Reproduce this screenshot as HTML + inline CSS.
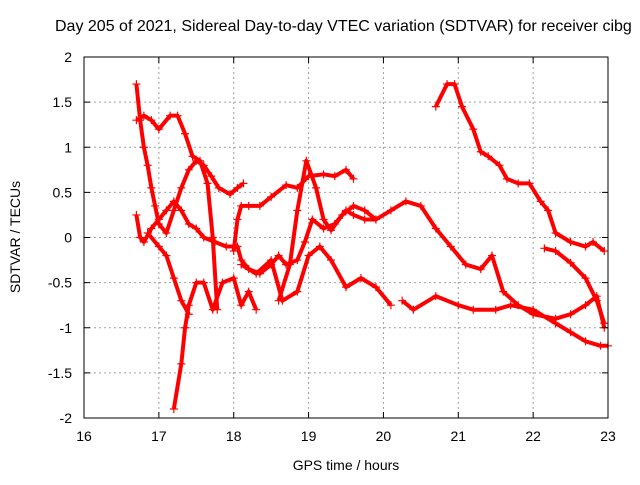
<!DOCTYPE html>
<html><head><meta charset="utf-8"><style>
body{margin:0;background:#fff}
svg text{font-family:"Liberation Sans",sans-serif;font-size:14px;fill:#000}
</style></head><body>
<svg id="chart" width="640" height="480" viewBox="0 0 640 480" xmlns="http://www.w3.org/2000/svg">
<rect x="0" y="0" width="640" height="480" fill="#fff"/>
<g id="grid"></g>
<g id="series"></g>
<rect x="84" y="57" width="524" height="361" fill="none" stroke="#000" stroke-width="1"/>
<g id="axes"></g>
<text x="55" y="31" text-anchor="start" style="font-size:16px">Day 205 of 2021, Sidereal Day-to-day VTEC variation (SDTVAR) for receiver cibg</text>
<text x="346" y="470" text-anchor="middle">GPS time / hours</text>
<text transform="translate(20,237) rotate(-90)" text-anchor="middle">SDTVAR / TECUs</text>
</svg>
<script>
const xTicks=[16,17,18,19,20,21,22,23];
const yTicks=[-2,-1.5,-1,-0.5,0,0.5,1,1.5,2];
const yTickLabels=["-2","-1.5","-1","-0.5","0","0.5","1","1.5","2"];
const traceA=[[16.7,1.7],[16.75,1.3],[16.8,1.0],[16.85,0.8],[16.9,0.55],[16.95,0.35],[17.0,0.15],[17.1,0.05],[17.2,0.3],[17.3,0.55],[17.4,0.75],[17.5,0.85],[17.6,0.8],[17.7,0.68],[17.8,0.55],[17.95,0.48],[18.05,0.55],[18.13,0.6]];
const traceB=[[18.0,-0.15],[18.05,0.2],[18.1,0.35],[18.2,0.35],[18.35,0.35],[18.5,0.45],[18.7,0.58],[18.85,0.55],[19.0,0.68],[19.2,0.7],[19.35,0.68],[19.5,0.75],[19.6,0.65]];
const traceC=[[16.7,1.3],[16.8,1.35],[16.9,1.3],[17.0,1.2],[17.15,1.35],[17.25,1.35],[17.35,1.15],[17.45,0.9],[17.55,0.85],[17.65,0.6],[17.72,0.0],[17.78,-0.8]];
const traceD=[[16.7,0.25],[16.75,0.0],[16.8,-0.05],[16.9,0.1],[17.0,0.2],[17.1,0.3],[17.2,0.4],[17.3,0.3],[17.4,0.15],[17.5,0.1],[17.6,0.0],[17.75,-0.05],[17.9,-0.1],[18.05,-0.1],[18.1,-0.25],[18.2,-0.35],[18.35,-0.4],[18.5,-0.3],[18.6,-0.2],[18.7,-0.3],[18.85,-0.25],[18.95,-0.05],[19.05,0.2],[19.2,0.1],[19.35,0.15],[19.5,0.3],[19.6,0.25],[19.75,0.2],[19.9,0.2],[20.1,0.3],[20.3,0.4],[20.5,0.35],[20.7,0.1],[20.9,-0.1],[21.1,-0.3],[21.3,-0.35],[21.45,-0.2],[21.6,-0.6],[21.8,-0.75],[22.0,-0.85],[22.3,-0.9],[22.5,-0.85],[22.7,-0.75],[22.85,-0.65],[22.95,-1.0]];
const traceE=[[17.2,-1.9],[17.3,-1.4],[17.35,-1.0],[17.4,-0.75],[17.5,-0.5],[17.6,-0.5],[17.72,-0.8],[17.85,-0.5],[18.0,-0.45],[18.1,-0.75],[18.2,-0.6],[18.3,-0.8]];
const traceF=[[16.85,0.05],[17.0,-0.1],[17.1,-0.2],[17.2,-0.45],[17.3,-0.7],[17.4,-0.85]];
const traceH=[[18.1,-0.3],[18.3,-0.4],[18.5,-0.25],[18.65,-0.7],[18.85,-0.6],[19.0,-0.2],[19.15,-0.1],[19.3,-0.25],[19.5,-0.55],[19.7,-0.45],[19.9,-0.55],[20.1,-0.75]];
const traceK=[[18.6,-0.7],[18.75,-0.3],[18.85,0.3],[18.97,0.85],[19.1,0.55],[19.2,0.2],[19.3,0.08],[19.45,0.25],[19.6,0.35],[19.75,0.3],[19.9,0.2]];
const traceL=[[20.25,-0.7],[20.4,-0.8],[20.7,-0.65],[21.0,-0.75],[21.2,-0.8],[21.5,-0.8],[21.7,-0.75],[22.0,-0.8],[22.3,-0.95],[22.5,-1.05],[22.7,-1.15],[22.9,-1.2],[23.0,-1.2]];
const traceI=[[20.7,1.45],[20.85,1.7],[20.95,1.7],[21.05,1.45],[21.2,1.2],[21.3,0.95],[21.4,0.9],[21.55,0.8],[21.65,0.65],[21.8,0.6],[21.95,0.6],[22.1,0.4],[22.2,0.3],[22.3,0.05],[22.5,-0.05],[22.7,-0.1],[22.8,-0.05],[22.95,-0.15]];
const traceJ=[[22.15,-0.12],[22.3,-0.15],[22.5,-0.28],[22.7,-0.45],[22.85,-0.7],[22.95,-0.95]];
const traces=[traceA,traceB,traceC,traceD,traceE,traceF,traceH,traceK,traceL,traceI,traceJ];
const X0=84,X1=608,Y0=418,Y1=57;
function xs(v){return X0+(v-16)/(23-16)*(X1-X0);}
function ys(v){return Y0-(v+2)/4*(Y0-Y1);}
const NS="http://www.w3.org/2000/svg";
const grid=document.getElementById('grid'),axes=document.getElementById('axes'),ser=document.getElementById('series');
function mk(t,a,p){const e=document.createElementNS(NS,t);for(const k in a)e.setAttribute(k,a[k]);p.appendChild(e);return e;}
xTicks.forEach((t,i)=>{const x=xs(t);
 if(i>0&&i<xTicks.length-1){const g=mk('line',{x1:x,x2:x,y1:Y1,y2:Y0,stroke:'#a0a0a0','stroke-dasharray':'2,3'},grid);
 
 }
 mk('line',{x1:x,x2:x,y1:Y0,y2:Y0-6,stroke:'#000'},axes);
 mk('line',{x1:x,x2:x,y1:Y1,y2:Y1+6,stroke:'#000'},axes);
 const l=mk('text',{x:x,y:Y0+23,'text-anchor':'middle'},axes);l.textContent=t;
 
 });
yTicks.forEach((t,i)=>{const y=ys(t);
 if(i>0&&i<yTicks.length-1){const g=mk('line',{x1:X0,x2:X1,y1:y,y2:y,stroke:'#a0a0a0','stroke-dasharray':'2,3'},grid);
 
 }
 mk('line',{x1:X0,x2:X0+6,y1:y,y2:y,stroke:'#000'},axes);
 mk('line',{x1:X1,x2:X1-6,y1:y,y2:y,stroke:'#000'},axes);
 const l=mk('text',{x:X0-12,y:y+5,'text-anchor':'end'},axes);l.textContent=yTickLabels[i];
 
 });
traces.forEach((tr,k)=>{
 const pl=mk('polyline',{points:tr.map(p=>xs(p[0])+','+ys(p[1])).join(' '),fill:'none',stroke:'#f00','stroke-width':4,'stroke-linejoin':'round'},ser);
 
 
 tr.forEach(p=>{const x=xs(p[0]),y=ys(p[1]);
  const m=mk('path',{d:`M${x-4},${y}H${x+4}M${x},${y-4}V${y+4}`,stroke:'#f00','stroke-width':1.2},ser);
  
  });
});
</script>
</body></html>
